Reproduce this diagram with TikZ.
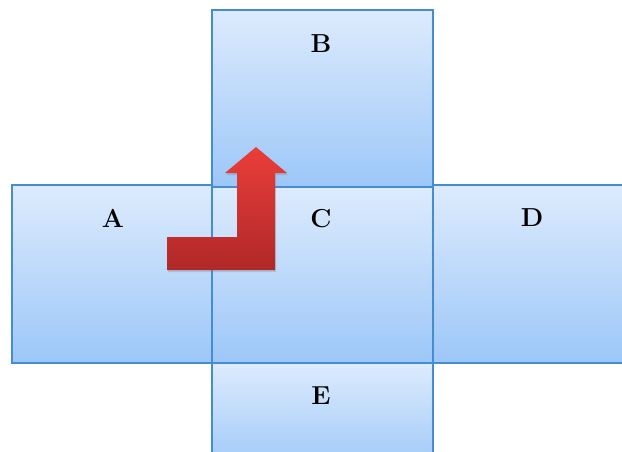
\documentclass[tikz,border=0pt]{standalone}
\usetikzlibrary{shadows}
\definecolor{boxtop}{HTML}{DDEBFD}
\definecolor{boxbot}{HTML}{9CC7F8}
\definecolor{boxline}{HTML}{468CD0}
\definecolor{arrtop}{HTML}{EA3E3A}
\definecolor{arrbot}{HTML}{B02828}
\tikzset{
  face/.style={rectangle, draw=boxline, line width=1.8pt, top color=boxtop, bottom color=boxbot, anchor=north west, inner sep=0pt, outer sep=0pt},
  lab/.style={font=\fontsize{26}{28}\selectfont\bfseries, inner sep=0pt},
}
\begin{document}
\begin{tikzpicture}[x=1pt,y=-1pt]
\useasboundingbox (0,0) rectangle (622,452);
\clip (0,0) rectangle (622,452);
\node[face, minimum width=200pt, minimum height=178pt] (A) at (12,185) {};
\node[face, minimum width=200pt, minimum height=178pt] (D) at (433,185) {};
\node[face, minimum width=221pt, minimum height=177pt] (B) at (212,10) {};
\node[face, minimum width=221pt, minimum height=110pt] (E) at (212,363) {};
\node[face, minimum width=221pt, minimum height=176pt] (C) at (212,187) {};
\node[lab] (la) at (113,218) {A};
\node[lab] (lb) at (321,44) {B};
\node[lab] (lc) at (321,219) {C};
\node[lab] (ld) at (532,218) {D};
\node[lab] (le) at (321,396) {E};
\path[top color=arrtop, bottom color=arrbot, drop shadow={opacity=0.3, shadow xshift=1pt, shadow yshift=-2pt}]
  (167,237) -- (237,237) -- (237,173) -- (225,173) -- (256,147) -- (287,173) -- (275,173) -- (275,270) -- (167,270) -- cycle;
\end{tikzpicture}
\end{document}
